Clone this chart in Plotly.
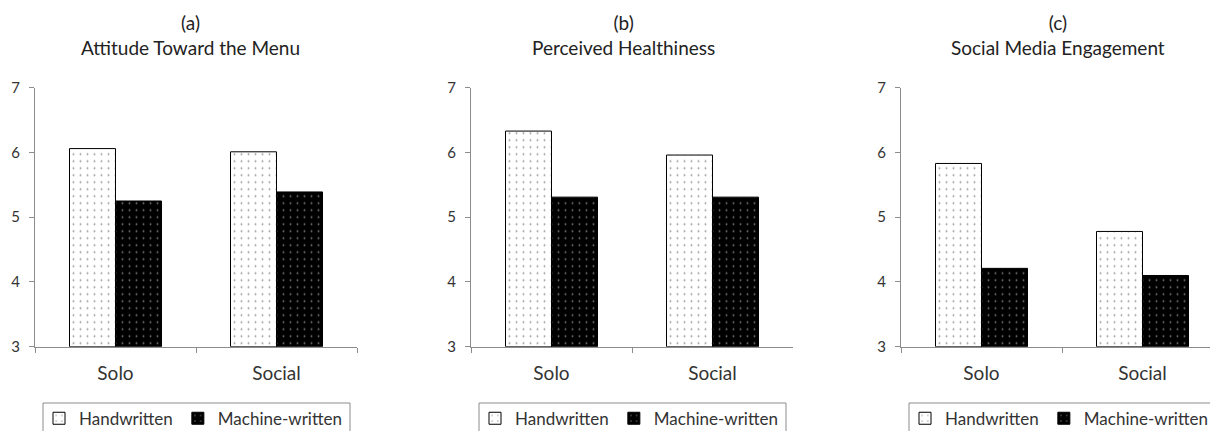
import plotly.graph_objects as go

# The page body adds an 8px margin, so the figure is 8px smaller and every
# reference pixel position is shifted by that offset.
OFF = 8
W, H = 1218 - OFF, 431 - OFF

categories = ["Solo", "Social"]
series_names = ["Handwritten", "Machine-written"]

panel_letters = ["(a)", "(b)", "(c)"]
panel_titles = ["Attitude Toward the Menu", "Perceived Healthiness", "Social Media Engagement"]

attitude_hand = [6.06, 6.01]
attitude_machine = [5.25, 5.39]
health_hand = [6.33, 5.96]
health_machine = [5.31, 5.31]
social_hand = [5.83, 4.78]
social_machine = [4.21, 4.10]

y_ticks = [3, 4, 5, 6, 7]

panels = [
    (attitude_hand, attitude_machine),
    (health_hand, health_machine),
    (social_hand, social_machine),
]

FONT = "Lato"
AXIS_COLOR = "#8c8c8c"
TEXT_COLOR = "#333333"


def px_x(X):
    return (X - OFF) / W


def px_y(Y):
    return 1 - (Y - OFF) / H


# reference-pixel layout of each panel
panel_px = [(35, 357), (471, 793), (901, 1223)]
legend_box_px = [(43, 350), (479, 786), (909, 1216)]
title_px = [190, 624, 1058]
y_bot_px, y_top_px = 346.7, 87.7
cat_w = 161.0

fig = go.Figure()

for i, (hand, mach) in enumerate(panels):
    xa = "x" if i == 0 else f"x{i+1}"
    ya = "y" if i == 0 else f"y{i+1}"
    lg = "legend" if i == 0 else f"legend{i+1}"
    fig.add_trace(go.Bar(
        x=categories, y=[v - 3 for v in hand], base=3, name=series_names[0],
        xaxis=xa, yaxis=ya, legend=lg,
        marker=dict(color="white", line=dict(color="black", width=1),
                    pattern=dict(shape=".", fgcolor="#333333", bgcolor="white",
                                 size=7, solidity=0.06)),
        hoverinfo="skip",
    ))
    fig.add_trace(go.Bar(
        x=categories, y=[v - 3 for v in mach], base=3, name=series_names[1],
        xaxis=xa, yaxis=ya, legend=lg,
        marker=dict(color="black", line=dict(color="black", width=1),
                    pattern=dict(shape=".", fgcolor="#e6e6e6", bgcolor="black",
                                 size=7, solidity=0.06)),
        hoverinfo="skip",
    ))

layout = dict(
    width=W, height=H,
    margin=dict(l=0, r=0, t=0, b=0, autoexpand=False),
    paper_bgcolor="white", plot_bgcolor="white",
    barmode="group", bargap=1 - 92 / 161, bargroupgap=0,
    font=dict(family=FONT, color=TEXT_COLOR),
    showlegend=True,
)

annotations = []
shapes = []
for i in range(3):
    xl, xr = panel_px[i]
    xr_c = min(xr, 1218)
    xkey = "xaxis" if i == 0 else f"xaxis{i+1}"
    ykey = "yaxis" if i == 0 else f"yaxis{i+1}"
    ykey_ref = "y" if i == 0 else f"y{i+1}"
    xkey_ref = "x" if i == 0 else f"x{i+1}"
    layout[xkey] = dict(
        domain=[px_x(xl), min(1.0, px_x(xr_c))],
        range=[-0.5, -0.5 + (xr_c - xl) / cat_w],
        anchor=ykey_ref,
        showline=True, linecolor=AXIS_COLOR, linewidth=1,
        ticks="outside", tickson="boundaries", ticklen=5, tickcolor=AXIS_COLOR,
        showgrid=False, zeroline=False,
        tickfont=dict(family=FONT, size=19, color=TEXT_COLOR),
        ticklabelstandoff=9,
        fixedrange=True,
    )
    layout[ykey] = dict(
        domain=[px_y(y_bot_px), px_y(y_top_px)],
        range=[3, 7], tickvals=y_ticks,
        anchor=xkey_ref,
        showline=True, linecolor=AXIS_COLOR, linewidth=1,
        ticks="outside", ticklen=5, tickcolor=AXIS_COLOR,
        showgrid=False, zeroline=False,
        tickfont=dict(family=FONT, size=15, color=TEXT_COLOR),
        ticklabelstandoff=6,
        fixedrange=True,
    )
    bl, br = legend_box_px[i]
    lkey = "legend" if i == 0 else f"legend{i+1}"
    layout[lkey] = dict(
        orientation="h",
        x=px_x(bl - 4), xanchor="left",
        y=px_y(418.7), yanchor="middle",
        borderwidth=0, bgcolor="rgba(0,0,0,0)",
        font=dict(family=FONT, size=17, color=TEXT_COLOR),
        itemclick=False, itemdoubleclick=False,
    )
    shapes.append(dict(
        type="rect", xref="paper", yref="paper",
        x0=px_x(bl), x1=px_x(br), y0=px_y(403), y1=px_y(445),
        line=dict(color=AXIS_COLOR, width=1), fillcolor="rgba(0,0,0,0)",
        layer="below",
    ))
    annotations.append(dict(
        text=f"{panel_letters[i]}<br>{panel_titles[i]}",
        x=px_x(title_px[i]), y=px_y(34.5), xref="paper", yref="paper",
        xanchor="center", yanchor="middle", showarrow=False,
        font=dict(family=FONT, size=19, color="#222222"),
    ))

layout["annotations"] = annotations
layout["shapes"] = shapes
fig.update_layout(**layout)

fig.write_html("out.html", config={"displayModeBar": False})
